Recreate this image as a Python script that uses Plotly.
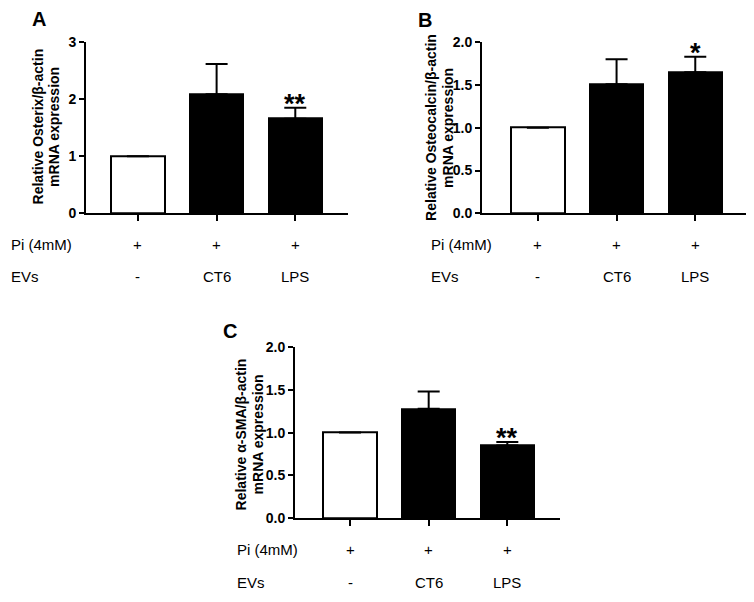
import plotly.graph_objects as go

# groups along x
groups = [0, 1, 2]
pi_row = ["+", "+", "+"]
evs_row = ["-", "CT6", "LPS"]

# panel A - Osterix
osterix_mean = [1.0, 2.09, 1.66]
osterix_err = [0.0, 0.53, 0.19]
osterix_sig = ["", "", "**"]

# panel B - Osteocalcin
osteocalcin_mean = [1.0, 1.51, 1.65]
osteocalcin_err = [0.0, 0.29, 0.18]
osteocalcin_sig = ["", "", "*"]

# panel C - alpha-SMA
sma_mean = [1.0, 1.28, 0.85]
sma_err = [0.0, 0.20, 0.04]
sma_sig = ["", "", "**"]

FONT = "Arial, Liberation Sans, sans-serif"
# page body has an 8px margin, so the figure is a bit smaller and shifted
OFF = 8
W, H = 754 - OFF, 602 - OFF

panels = [
    dict(ax="", mean=osterix_mean, err=osterix_err, sig=osterix_sig,
         xdom=[86, 348], ydom=[35, 210.7], yrange=[0, 3], dtick=1, fmt="d",
         xrange=[-0.66, 2.67], label="A", label_xy=(39, 11),
         title=["Relative Osterix/β-actin", "mRNA expression"],
         title_x=[37.5, 54], title_y=122, row_x=9, row_y=[243, 276]),
    dict(ax="2", mean=osteocalcin_mean, err=osteocalcin_err, sig=osteocalcin_sig,
         xdom=[482, 748], ydom=[35, 210.7], yrange=[0, 2], dtick=0.5, fmt=".1f",
         xrange=[-0.71, 2.67], label="B", label_xy=(425, 12),
         title=["Relative Osteocalcin/β-actin", "mRNA expression"],
         title_x=[431, 448], title_y=123, row_x=429, row_y=[243, 276]),
    dict(ax="3", mean=sma_mean, err=sma_err, sig=sma_sig,
         xdom=[295, 560], ydom=[348.3, 524], yrange=[0, 2], dtick=0.5, fmt=".1f",
         xrange=[-0.70, 2.67], label="C", label_xy=(230, 332),
         title=["Relative α-SMA/β-actin", "mRNA expression"],
         title_x=[241, 258], title_y=438, row_x=235, row_y=[556.7, 590]),
]

fig = go.Figure()
annotations = []


def px(x):
    return (x - OFF) / W


def py(y):
    return 1 - (y - OFF) / H


for p in panels:
    xa = "x" + p["ax"]
    ya = "y" + p["ax"]
    fig.add_trace(go.Bar(
        x=groups, y=p["mean"], width=0.68,
        marker=dict(color=["white", "black", "black"],
                    line=dict(color="black", width=2)),
        error_y=dict(type="data", symmetric=False, array=p["err"],
                     arrayminus=[0, 0, 0], color="black", thickness=2, width=11),
        xaxis=xa, yaxis=ya, showlegend=False, hoverinfo="skip",
    ))

    key = p["ax"]
    fig.update_layout(**{
        "xaxis" + key: dict(
            domain=[px(p["xdom"][0]), px(p["xdom"][1])],
            range=p["xrange"], anchor=ya, showgrid=False, zeroline=False,
            showline=True, linecolor="black", linewidth=2,
            ticks="outside", ticklen=6, tickwidth=2, tickcolor="black",
            tickvals=groups, showticklabels=False, fixedrange=True,
        ),
        "yaxis" + key: dict(
            domain=[py(p["ydom"][1]), py(p["ydom"][0])],
            range=p["yrange"], anchor=xa, showgrid=False, zeroline=False,
            showline=True, linecolor="black", linewidth=2,
            ticks="outside", ticklen=5, tickwidth=2, tickcolor="black",
            dtick=p["dtick"], tickformat=p["fmt"],
            tickfont=dict(family=FONT, size=14, color="black", weight="bold"),
            fixedrange=True,
        ),
    })

    # significance stars
    for g, m, e, s in zip(groups, p["mean"], p["err"], p["sig"]):
        if s:
            annotations.append(dict(
                x=g, y=m + e, xref=xa, yref=ya, text=s, showarrow=False,
                xanchor="center", yanchor="bottom", yshift=-13,
                font=dict(family=FONT, size=27, color="black", weight="bold"),
            ))

    # condition rows
    row_names = ["Pi (4mM)", "EVs"]
    for name, ry, vals in zip(row_names, p["row_y"], [pi_row, evs_row]):
        annotations.append(dict(
            x=px(p["row_x"]), y=py(ry), xref="paper", yref="paper", text=name,
            showarrow=False, xanchor="left", yanchor="middle",
            font=dict(family=FONT, size=15, color="black"),
        ))
        for g, v in zip(groups, vals):
            annotations.append(dict(
                x=g, y=py(ry), xref=xa, yref="paper", text=v, showarrow=False,
                xanchor="center", yanchor="middle",
                font=dict(family=FONT, size=15, color="black"),
            ))

    # y axis title (two lines)
    for t, tx in zip(p["title"], p["title_x"]):
        annotations.append(dict(
            x=px(tx), y=py(p["title_y"]), xref="paper", yref="paper", text=t,
            textangle=-90, showarrow=False, xanchor="center", yanchor="middle",
            font=dict(family=FONT, size=14, color="black", weight="bold"),
        ))

    # panel letter
    annotations.append(dict(
        x=px(p["label_xy"][0]), y=py(p["label_xy"][1]), xref="paper", yref="paper",
        text=p["label"], showarrow=False, xanchor="center", yanchor="middle",
        font=dict(family=FONT, size=20, color="black", weight="bold"),
    ))

fig.update_layout(
    width=W, height=H,
    margin=dict(l=0, r=0, t=0, b=0),
    paper_bgcolor="white", plot_bgcolor="white",
    annotations=annotations,
    bargap=0,
)

fig.write_html("out.html")
